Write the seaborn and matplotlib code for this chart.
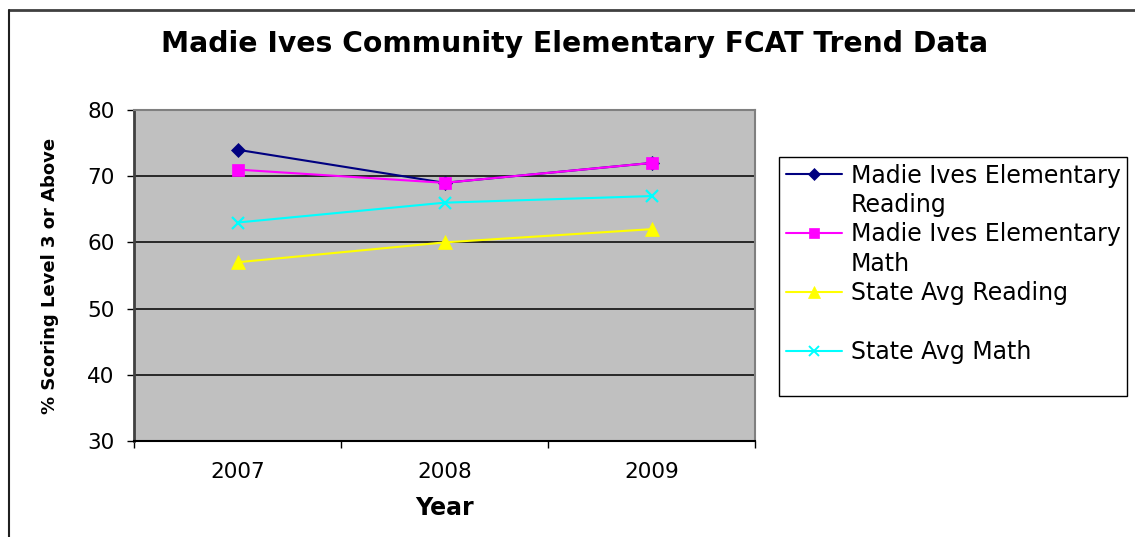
import matplotlib
matplotlib.use("Agg")
import matplotlib.pyplot as plt
from matplotlib.lines import Line2D
import seaborn as sns
import pandas as pd

years = ["2007", "2008", "2009"]
series_names = ["Madie Ives Elementary Reading", "Madie Ives Elementary Math",
                "State Avg Reading", "State Avg Math"]
mi_reading = [74, 69, 72]
mi_math = [71, 69, 72]
state_reading = [57, 60, 62]
state_math = [63, 66, 67]
y_ticks = [30, 40, 50, 60, 70, 80]

colors = ["#000080", "#FF00FF", "#FFFF00", "#00FFFF"]
markers = ["D", "s", "^", "x"]
msizes = [7, 8, 9.5, 9]

sns.set_theme(style="white")
plt.rcParams['font.family'] = ['DejaVu Sans']
plt.rcParams['text.color'] = 'black'
plt.rcParams['axes.labelcolor'] = 'black'
plt.rcParams['xtick.color'] = 'black'
plt.rcParams['ytick.color'] = 'black'

df = pd.DataFrame({
    "Year": years * 4,
    "Value": mi_reading + mi_math + state_reading + state_math,
    "Series": sum([[n] * 3 for n in series_names], []),
})

fig = plt.figure(figsize=(11.35, 5.37), dpi=100)
ax = fig.add_axes([134/1135, 1-441/537, (755-134)/1135, (441-110)/537])
ax.set_facecolor("#C0C0C0")

for name, c, m, ms in zip(series_names, colors, markers, msizes):
    sub = df[df["Series"] == name]
    sns.lineplot(data=sub, x="Year", y="Value", ax=ax, color=c, marker=m,
                 markersize=ms, markeredgecolor=c, markerfacecolor=c,
                 markeredgewidth=1.6 if m == "x" else 0.5,
                 linewidth=1.5, sort=False, legend=False, zorder=3)

ax.set_xlim(-0.5, 2.5)
ax.set_ylim(30, 80)
ax.set_yticks(y_ticks)
ax.set_yticklabels([str(v) for v in y_ticks], fontsize=15.5)
ax.set_xticks(range(len(years)))
ax.set_xticklabels(years, fontsize=15.5)
ax.set_xticks([-0.5, 0.5, 1.5, 2.5], minor=True)
ax.tick_params(axis="x", which="major", length=0, pad=15)
ax.tick_params(axis="x", which="minor", length=5, width=1, color="black", direction="out", bottom=True)
ax.tick_params(axis="y", which="major", length=5, width=1, color="black", direction="out", pad=9, left=True)

for v in y_ticks[1:-1]:
    ax.axhline(v, color="black", linewidth=1.1, zorder=1)

ax.spines["left"].set_color("#404040")
ax.spines["left"].set_linewidth(2)
ax.spines["top"].set_color("#808080")
ax.spines["top"].set_linewidth(1.5)
ax.spines["right"].set_color("#808080")
ax.spines["right"].set_linewidth(1.5)
ax.spines["bottom"].set_color("black")
ax.spines["bottom"].set_linewidth(1.5)

ax.set_xlabel("Year", fontsize=17, fontweight="bold", labelpad=10)
ax.set_ylabel("% Scoring Level 3 or Above", fontsize=13, fontweight="bold", labelpad=20)

fig.text(575/1135, 1-44/537, "Madie Ives Community Elementary FCAT Trend Data",
         ha="center", va="center", fontsize=20.3, fontweight="bold")

# legend (handle aligned to first line of wrapped labels)
def h(c, m, ms):
    return Line2D([], [], color=c, marker=m, markersize=ms * 0.85, markerfacecolor=c,
                  markeredgecolor=c, markeredgewidth=1.4 if m == "x" else 0.5, linewidth=1.5)
blank = Line2D([], [], linestyle="none")
handles = [h(colors[0], markers[0], msizes[0]), blank,
           h(colors[1], markers[1], msizes[1]), blank,
           h(colors[2], markers[2], msizes[2]), blank,
           h(colors[3], markers[3], msizes[3]), blank]
labels = ["Madie Ives Elementary", "Reading",
          "Madie Ives Elementary", "Math",
          "State Avg Reading", "",
          "State Avg Math", ""]
leg = fig.legend(handles, labels, loc="upper left",
                 bbox_to_anchor=(779/1135, 1-157/537), fontsize=17,
                 frameon=True, fancybox=False, edgecolor="black",
                 framealpha=1, handlelength=2.4, handletextpad=0.35,
                 labelspacing=0.23, borderpad=0.28, borderaxespad=0)
leg.get_texts()[-1].set_fontsize(10)
leg.get_frame().set_linewidth(1.0)

# outer chart frame (top and left visible)
fig.add_artist(Line2D([9/1135, 1], [1-10/537, 1-10/537], color="#404040", linewidth=2, transform=fig.transFigure))
fig.add_artist(Line2D([9/1135, 9/1135], [0, 1-10/537], color="#202020", linewidth=1.5, transform=fig.transFigure))

fig.savefig("out.png", dpi=100, facecolor="white")
